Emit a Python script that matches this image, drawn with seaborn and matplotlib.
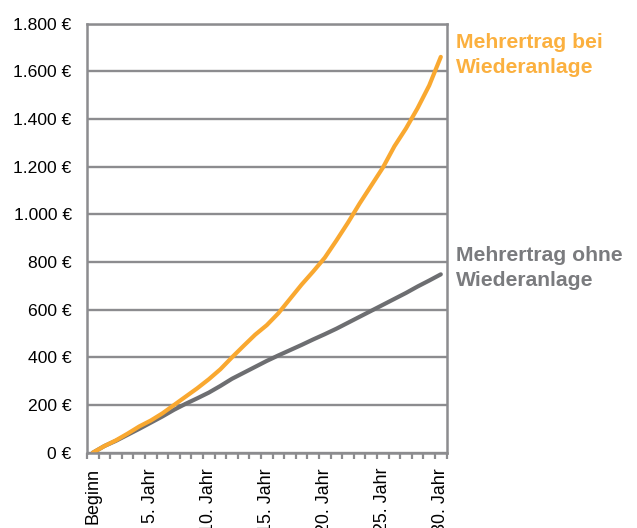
import matplotlib
matplotlib.use("Agg")
import matplotlib.pyplot as plt
import pandas as pd
import seaborn as sns
from matplotlib.ticker import FixedLocator

# ---- data ----
categories = ["Beginn"] + [f"{i}. Jahr" for i in range(1, 31)]
mit_wiederanlage = [0, 28, 52, 80, 110, 135, 165, 200, 235, 270, 308,
                    350, 400, 448, 495, 535, 585, 645, 705, 760, 818,
                    890, 965, 1045, 1120, 1195, 1285, 1360, 1445, 1540, 1660]
ohne_wiederanlage = [0, 28, 50, 75, 100, 126, 152, 180, 205, 228, 252,
                     280, 310, 335, 360, 385, 408, 430, 452, 475, 497,
                     520, 545, 570, 595, 620, 645, 670, 697, 722, 748]
series_names = ["Mehrertrag bei\nWiederanlage", "Mehrertrag ohne\nWiederanlage"]
y_ticks = [0, 200, 400, 600, 800, 1000, 1200, 1400, 1600, 1800]
y_tick_labels = ["0 €", "200 €", "400 €", "600 €", "800 €", "1.000 €",
                 "1.200 €", "1.400 €", "1.600 €", "1.800 €"]
x_label_years = [0, 5, 10, 15, 20, 25, 30]

ORANGE = "#F9A830"
ORANGE_TXT = "#FBB03F"
GREY = "#6D6E71"
GREY_TXT = "#7A7B7E"
GRID = "#8C8C8F"

df = pd.DataFrame({
    "pos": list(range(len(categories))) * 2,
    "wert": mit_wiederanlage + ohne_wiederanlage,
    "reihe": [series_names[0]] * len(categories) + [series_names[1]] * len(categories),
})

sns.set_theme(style="white")
plt.rcParams["font.family"] = ["Liberation Sans", "DejaVu Sans"]

fig = plt.figure(figsize=(6.37, 5.28), dpi=100)
ax = fig.add_axes([87 / 637, 1 - 452.7 / 528, (446.6 - 87) / 637, (452.7 - 23.5) / 528])

sns.lineplot(data=df, x="pos", y="wert", hue="reihe",
             palette={series_names[0]: ORANGE, series_names[1]: GREY},
             hue_order=[series_names[1], series_names[0]],
             linewidth=3.0, legend=False, ax=ax, sort=False,
             solid_capstyle="round")

ax.set_xlim(-0.5, len(categories) - 0.5)
ax.set_ylim(0, 1800)
ax.set_xlabel("")
ax.set_ylabel("")

ax.set_axisbelow(True)
ax.yaxis.grid(True, color=GRID, linewidth=1.7)
ax.xaxis.grid(False)
for s in ax.spines.values():
    s.set_color(GRID)
    s.set_linewidth(1.8)

ax.yaxis.set_major_locator(FixedLocator(y_ticks))
ax.set_yticklabels(y_tick_labels)
ax.tick_params(axis="y", which="major", direction="out", length=5, width=1.6,
               color=GRID, labelsize=12.6, labelcolor="black", pad=6)

ax.xaxis.set_major_locator(FixedLocator(x_label_years))
ax.set_xticklabels([categories[i] for i in x_label_years], rotation=90)
ax.xaxis.set_minor_locator(FixedLocator([i - 0.5 for i in range(len(categories) + 1)]))
ax.tick_params(axis="x", which="major", length=0, labelsize=12.9,
               labelcolor="black", pad=11)
ax.tick_params(axis="x", which="minor", direction="out", length=4.5, width=1.6,
               color=GRID, bottom=True)

fig.text(456 / 637, 1 - 33 / 528, series_names[0], ha="left", va="top",
         fontsize=15.2, fontweight="bold", color=ORANGE_TXT, linespacing=1.42)
fig.text(456 / 637, 1 - 246 / 528, series_names[1], ha="left", va="top",
         fontsize=15.2, fontweight="bold", color=GREY_TXT, linespacing=1.42)

fig.savefig("out.png", dpi=100, facecolor="white")
